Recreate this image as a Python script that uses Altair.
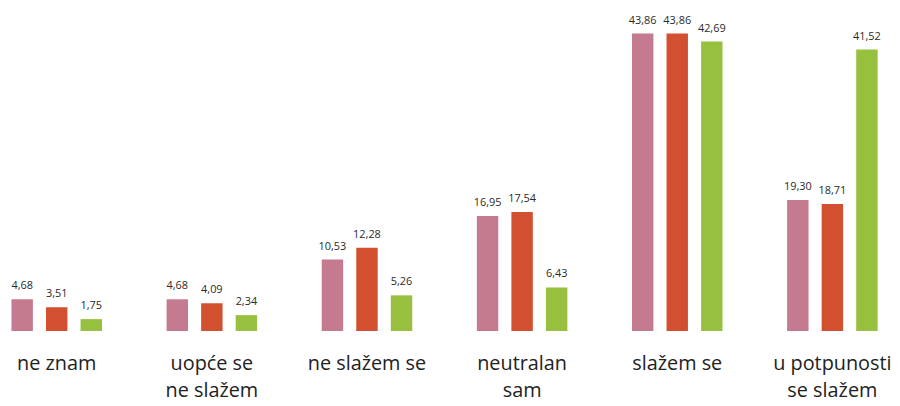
import altair as alt
import pandas as pd

categories = ["ne znam", "uopće se|ne slažem", "ne slažem se", "neutralan|sam", "slažem se", "u potpunosti|se slažem"]
series = ["A", "B", "C"]
values_a = [4.68, 4.68, 10.53, 16.95, 43.86, 19.30]
values_b = [3.51, 4.09, 12.28, 17.54, 43.86, 18.71]
values_c = [1.75, 2.34, 5.26, 6.43, 42.69, 41.52]
colors = ["#C47B8F", "#D2502F", "#96C03D"]

rows = []
for i, cat in enumerate(categories):
    for s, vals in zip(series, [values_a, values_b, values_c]):
        v = vals[i]
        rows.append({"cat": cat, "series": s, "value": v, "label": f"{v:.2f}".replace(".", ",")})
df = pd.DataFrame(rows)

x = alt.X("cat:N", sort=categories,
          scale=alt.Scale(paddingInner=0.372, paddingOuter=0),
          axis=alt.Axis(title=None, domain=False, ticks=False, labelAngle=0,
                        labelExpr="split(datum.label, '|')", labelLineHeight=27,
                        labelFont="Open Sans", labelFontSize=20, labelFontWeight=500,
                        labelColor="#222222",
                        labelPadding=23, labelBaseline="top"))
xo = alt.XOffset("series:N", sort=series, scale=alt.Scale(paddingInner=0.38, paddingOuter=0.1))
y = alt.Y("value:Q", scale=alt.Scale(domain=[0, 47.4]), axis=None)

base = alt.Chart(df).encode(x=x, xOffset=xo, y=y)
bars = base.mark_bar().encode(
    color=alt.Color("series:N", scale=alt.Scale(domain=series, range=colors), legend=None)
)
text = base.mark_text(baseline="bottom", dy=-8, font="Open Sans", fontSize=11,
                      fontWeight=500, color="#2a2a2a").encode(text="label:N")

chart = (bars + text).properties(width=880, height=324, padding=0).configure_view(stroke=None)
chart.save("out.html", embed_options={"renderer": "svg", "actions": False})
